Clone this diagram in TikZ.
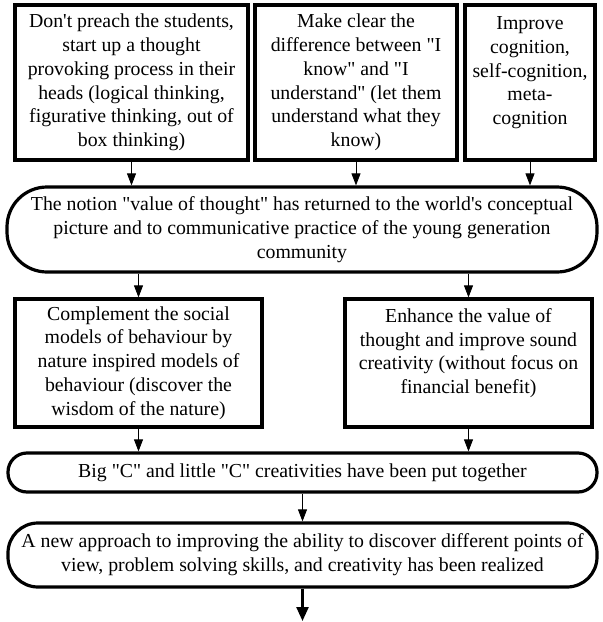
\documentclass[tikz,border=0pt]{standalone}
\usepackage{fontspec}
\setmainfont[Ligatures=TeXOff]{Liberation Serif}
\usetikzlibrary{arrows.meta}
\begin{document}
\begin{tikzpicture}[x=1pt,y=-1pt,
  sq/.style={draw,line width=3.2pt,fill=white,align=center,inner sep=0pt,
    font=\rmfamily\fontsize{19.8}{23.8}\selectfont},
  rb/.style={sq,rounded corners=#1},
  arr/.style={-{Triangle[length=12pt,width=9pt]},line width=0.8pt},
  arrbig/.style={-{Triangle[length=14pt,width=12pt]},line width=2.4pt}]
\useasboundingbox (0,0) rectangle (603,622);
\node[sq,minimum width=233pt,minimum height=155pt] (b1) at (131.5,82.5)
  {Don't preach the students,\\ start up a thought\\ provoking process in their\\ heads (logical thinking,\\ figurative thinking, out of\\ box thinking)};
\node[sq,minimum width=202pt,minimum height=155pt] (b2) at (356,82.5)
  {Make clear the\\ difference between "I\\ know" and "I\\ understand" (let them\\ understand what they\\ know)};
\node[sq,minimum width=130pt,minimum height=155pt] (b3) at (530,82.5)
  {Improve\\ cognition,\\ self-cognition,\\ meta-\\ cognition\\ ~};
\node[rb=40pt,minimum width=590pt,minimum height=85pt] (n1) at (302,229.5)
  {The notion "value of thought" has returned to the world's conceptual\\ picture and to communicative practice of the young generation\\ community};
\node[sq,minimum width=247pt,minimum height=128pt] (c1) at (138.5,363)
  {Complement the social\\ models of behaviour by\\ nature inspired models of\\ behaviour (discover the\\ wisdom of the nature)};
\node[sq,minimum width=247pt,minimum height=128pt] (c2) at (468.5,363)
  {Enhance the value of\\ thought and improve sound\\ creativity (without focus on\\ financial benefit)\\ ~};
\node[rb=19pt,minimum width=589pt,minimum height=39pt] (n2) at (302.5,472.5)
  {Big "C" and little "C" creativities have been put together};
\node[rb=30pt,minimum width=589pt,minimum height=64pt] (n3) at (302.5,555)
  {A new approach to improving the ability to discover different points of\\ view, problem solving skills, and creativity has been realized};
\coordinate (end) at (302,621);
\draw[arr] (b1.south) -- (b1.south |- n1.north);
\draw[arr] (b2.south) -- (b2.south |- n1.north);
\draw[arr] (b3.south) -- (b3.south |- n1.north);
\draw[arr] (c1.north |- n1.south) -- (c1.north);
\draw[arr] (c2.north |- n1.south) -- (c2.north);
\draw[arr] (c1.south) -- (c1.south |- n2.north);
\draw[arr] (c2.south) -- (c2.south |- n2.north);
\draw[arr] (n2.south) -- (n3.north);
\draw[arrbig] (n3.south) -- (n3.south |- end);
\end{tikzpicture}
\end{document}
